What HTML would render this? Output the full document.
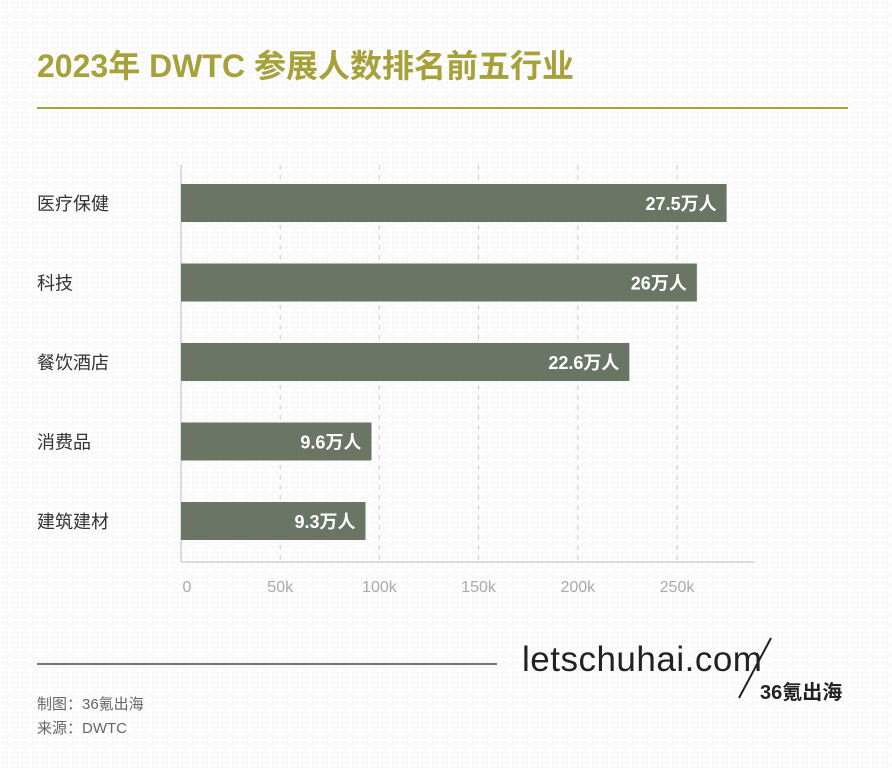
<!DOCTYPE html>
<html><head><meta charset="utf-8">
<style>
html,body{margin:0;padding:0;}
body{width:892px;height:768px;position:relative;overflow:hidden;background:#fff;font-family:"Liberation Sans","Noto Sans CJK SC",sans-serif;}
.abs{position:absolute;}
</style></head>
<body>
<svg class="abs" style="left:0;top:0" width="892" height="768">
<defs><pattern id="p" width="10" height="10" patternUnits="userSpaceOnUse"><rect x="2" y="2" width="6" height="6" rx="1.5" fill="none" stroke="#f1f1f1" stroke-width="1"/></pattern></defs>
<rect width="892" height="768" fill="url(#p)"/>
</svg>
<div class="abs" style="left:37px;top:41px;font-size:32px;font-weight:bold;color:#a7a13a;white-space:nowrap;">2023年 DWTC 参展人数排名前五行业</div>
<div class="abs" style="left:37px;top:107px;width:811px;height:2px;background:#a7a13a;"></div>
<svg id="chart" class="abs" style="left:0;top:0" width="892" height="768"></svg>
<div class="abs" style="left:37px;top:663px;width:460px;height:2px;background:#777;"></div>
<div class="abs" style="left:522px;top:640px;font-size:35px;color:#222;white-space:nowrap;letter-spacing:0.5px;">letschuhai.com</div>
<svg class="abs" style="left:735px;top:636px" width="40" height="64"><line x1="36" y1="2" x2="4" y2="62" stroke="#222" stroke-width="2"/></svg>
<div class="abs" style="left:760px;top:676px;font-size:20px;font-weight:bold;color:#222;white-space:nowrap;">36氪出海</div>
<div class="abs" style="left:37px;top:693px;font-size:15px;color:#666;">制图：36氪出海</div>
<div class="abs" style="left:37px;top:717px;font-size:15px;color:#666;">来源：DWTC</div>
<script>
const categories=["医疗保健","科技","餐饮酒店","消费品","建筑建材"];
const values=[275,260,226,96,93];
const valueLabels=["27.5万人","26万人","22.6万人","9.6万人","9.3万人"];
const ticks=[0,50,100,150,200,250];
const tickLabels=["0","50k","100k","150k","200k","250k"];
const svg=document.getElementById('chart');
const NS='http://www.w3.org/2000/svg';
const x=v=>181+v*1.984;
const yTop=i=>184+i*79.5;
function mk(t,a){const e=document.createElementNS(NS,t);for(const k in a)e.setAttribute(k,a[k]);svg.appendChild(e);return e;}
ticks.forEach((t,i)=>{
  if(t>0){const g=mk('line',{x1:x(t),x2:x(t),y1:165,y2:562,stroke:'#ccc','stroke-dasharray':'5,5'});
  
  }
  const l=mk('text',{x:x(t)+(t==0?6:0),y:592,'text-anchor':'middle','font-size':'16',fill:'#aaa'});
  l.textContent=tickLabels[i];
  
  
});
const ax=mk('line',{x1:181,x2:181,y1:165,y2:562,stroke:'#bbb','stroke-width':1});


const bx=mk('line',{x1:181,x2:755,y1:562,y2:562,stroke:'#bbb','stroke-width':1});


categories.forEach((c,i)=>{
  const r=mk('rect',{x:x(0),y:yTop(i),width:x(values[i])-x(0),height:38,fill:'#6b7566'});
  
  
  const t=mk('text',{x:x(values[i])-10,y:yTop(i)+26,'text-anchor':'end','font-size':'18','font-weight':'bold',fill:'#fff'});
  t.textContent=valueLabels[i];
  
  
  const cl=mk('text',{x:37,y:yTop(i)+26,'font-size':'18',fill:'#333'});
  cl.textContent=c;
  
  
});
</script>
</body></html>
